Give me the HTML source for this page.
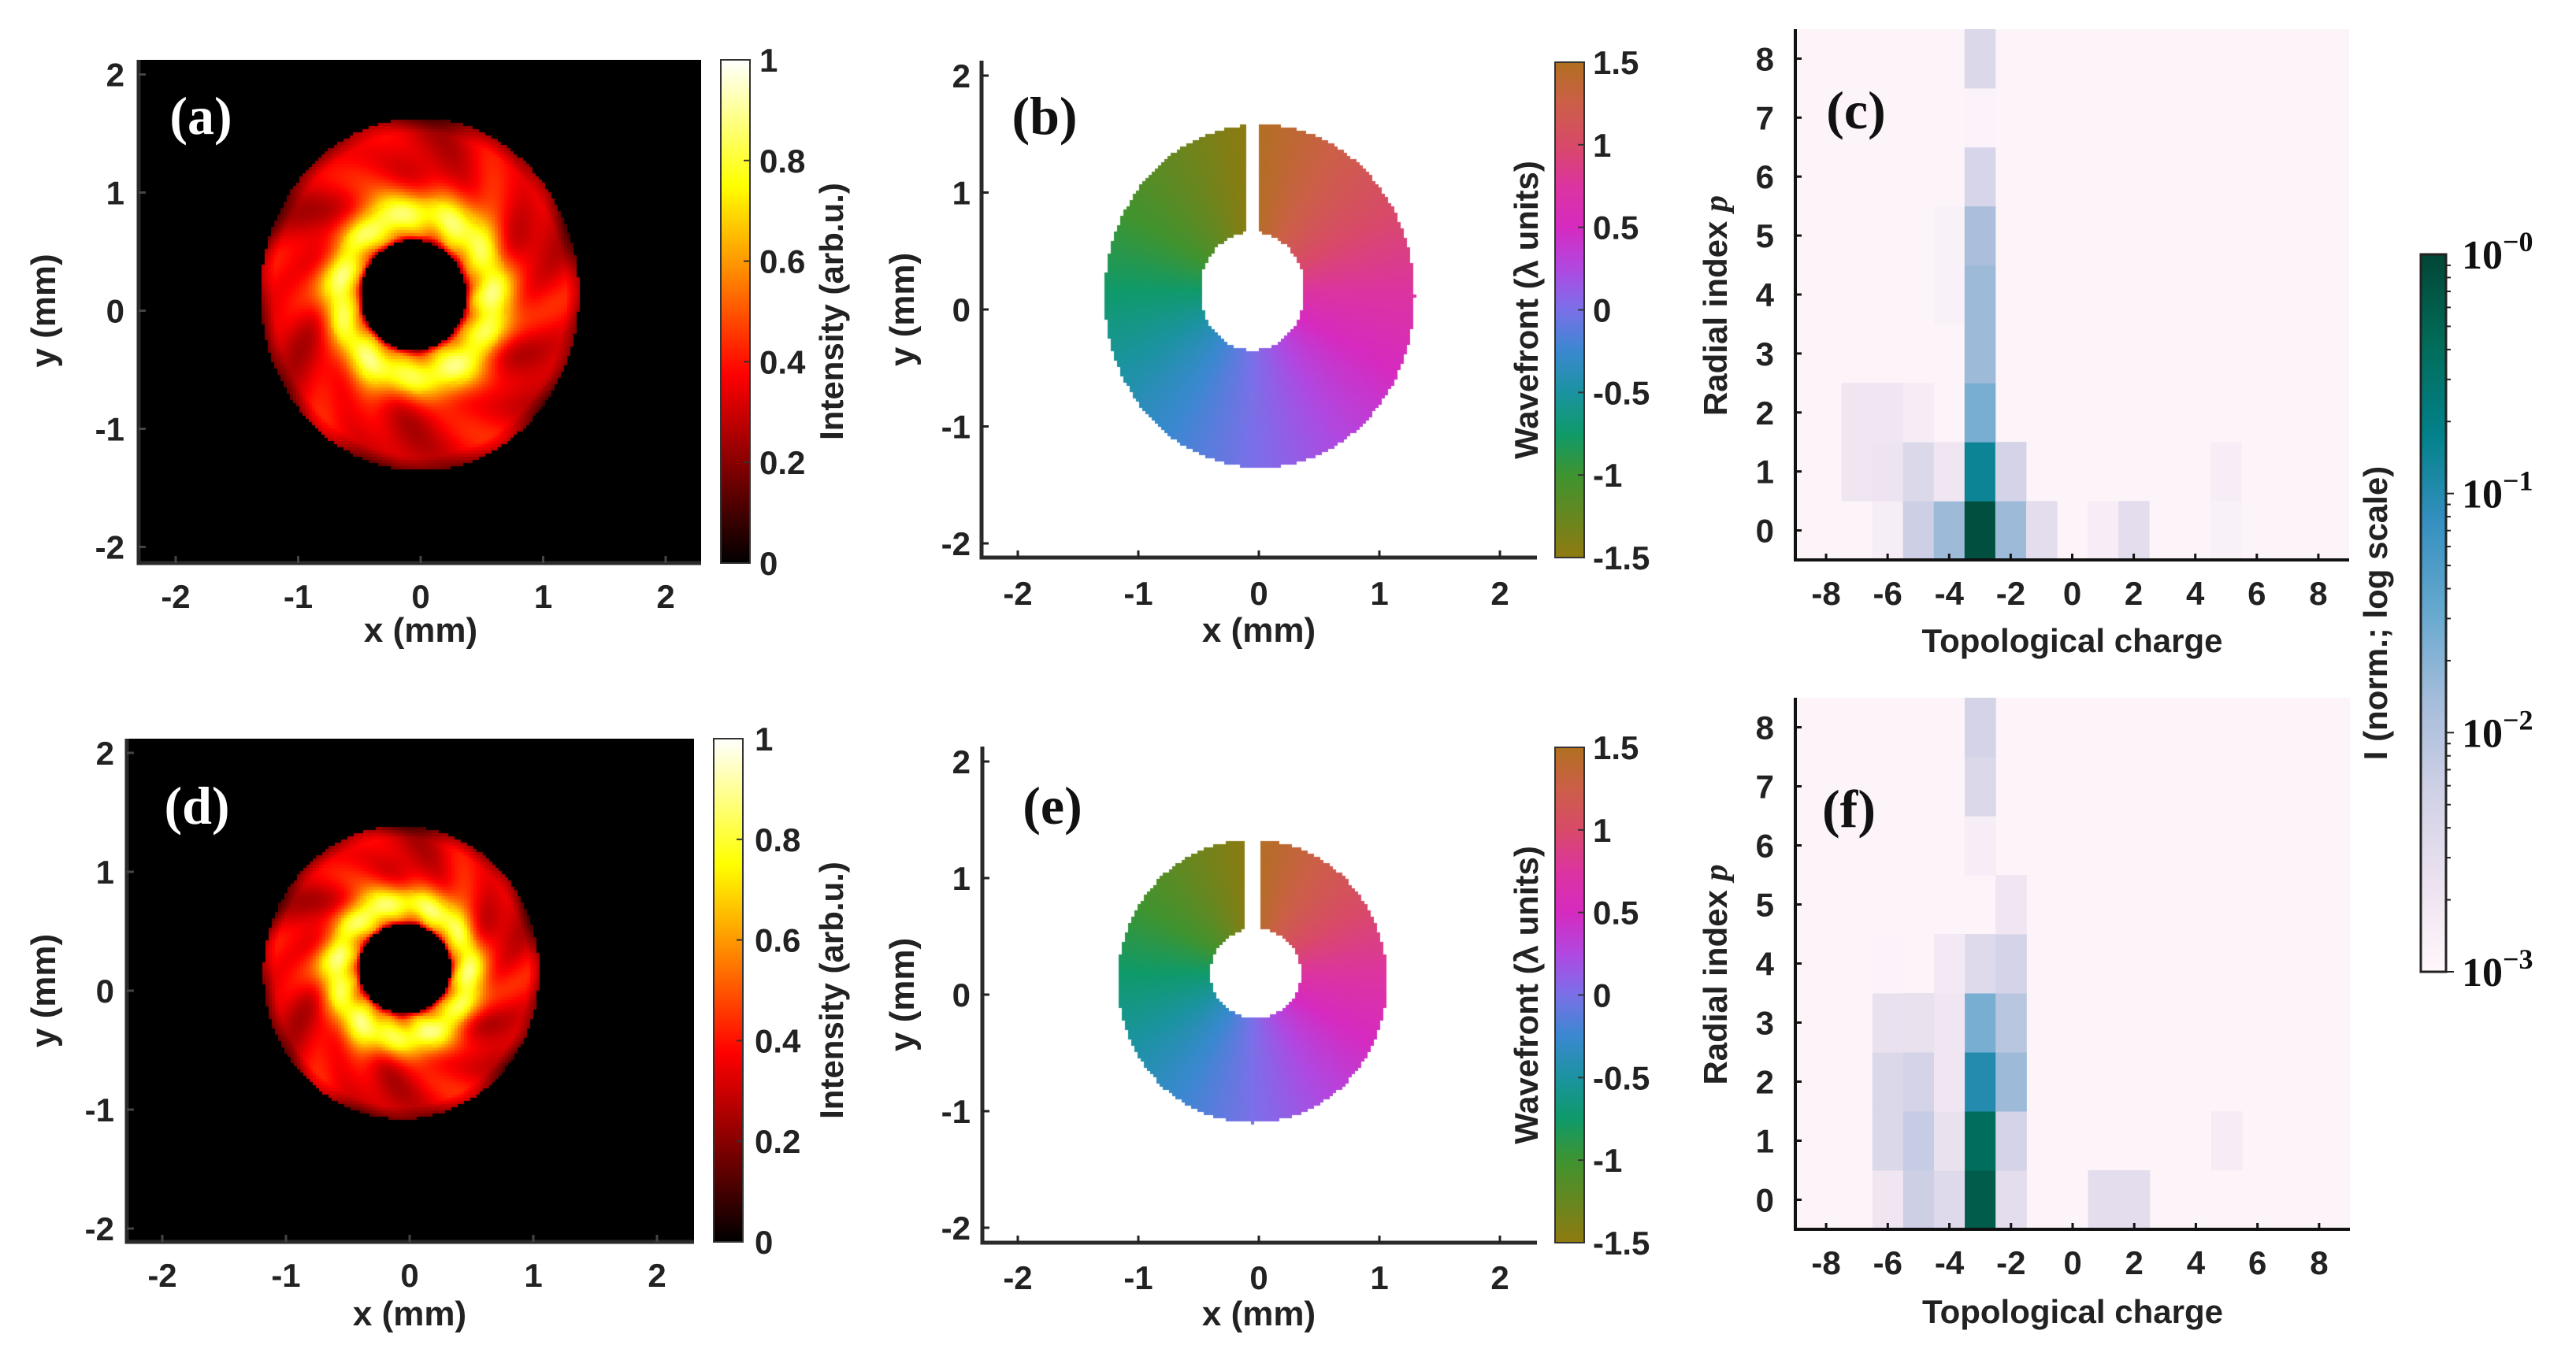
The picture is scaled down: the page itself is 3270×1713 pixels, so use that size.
<!DOCTYPE html>
<html><head><meta charset="utf-8"><style>
html,body{margin:0;padding:0;background:#fff;}
#wrap{position:relative;width:3270px;height:1713px;overflow:hidden;background:#fff;}
canvas{position:absolute;}
svg{position:absolute;left:0;top:0;}
text{font-family:"Liberation Sans",sans-serif;font-weight:bold;fill:#222;}
.ser{font-family:"Liberation Serif",serif;}
</style></head><body>
<div id="wrap">
<canvas id="cvA"></canvas>
<canvas id="cvD"></canvas>
<canvas id="cvB"></canvas>
<canvas id="cvE"></canvas>
<svg id="svg" width="3270" height="1713" viewBox="0 0 3270 1713" xmlns="http://www.w3.org/2000/svg">
<defs>
<linearGradient id="hotG" x1="0" y1="1" x2="0" y2="0">
<stop offset="0" stop-color="#000"/><stop offset="0.375" stop-color="#f00"/><stop offset="0.75" stop-color="#ff0"/><stop offset="1" stop-color="#fff"/>
</linearGradient>
<linearGradient id="phG" x1="0" y1="1" x2="0" y2="0">
<stop offset="0" stop-color="#8f7a10"/><stop offset="0.1667" stop-color="#3e9430"/><stop offset="0.25" stop-color="#0f9a6a"/><stop offset="0.333" stop-color="#1b93a0"/><stop offset="0.4167" stop-color="#3a88d0"/><stop offset="0.5" stop-color="#7a70e8"/><stop offset="0.583" stop-color="#b048e0"/><stop offset="0.667" stop-color="#d62ac0"/><stop offset="0.75" stop-color="#dc34a0"/><stop offset="0.833" stop-color="#d84a68"/><stop offset="0.9167" stop-color="#cc5f48"/><stop offset="1" stop-color="#b07020"/>
</linearGradient>
<linearGradient id="pbG" x1="0" y1="1" x2="0" y2="0">
<stop offset="0" stop-color="#fff7fb"/><stop offset="0.125" stop-color="#ece2f0"/><stop offset="0.25" stop-color="#d0d1e6"/><stop offset="0.375" stop-color="#a6bddb"/><stop offset="0.5" stop-color="#67a9cf"/><stop offset="0.625" stop-color="#3690c0"/><stop offset="0.75" stop-color="#02818a"/><stop offset="0.875" stop-color="#016c59"/><stop offset="1" stop-color="#014636"/>
</linearGradient>
</defs>
<g id="layer"></g>
</svg>
</div>
<script>
// ---- Heatmap data (c): rows p=0..8, cols topological charge ----
const charges = [-9,-8,-7,-6,-5,-4,-3,-2,-1,0,1,2,3,4,5,6,7,8,9];
const radialIdx = [0,1,2,3,4,5,6,7,8];
const xTicksTC = [-8,-6,-4,-2,0,2,4,6,8];
const yTicksP = [0,1,2,3,4,5,6,7,8];
// sparse entries [charge, p, value]
const cellsC = [
 [-6,0,0.0015],[-5,0,0.006],[-4,0,0.015],[-3,0,0.8],[-2,0,0.015],[-1,0,0.003],[1,0,0.0015],[2,0,0.003],[5,0,0.0013],
 [-7,1,0.002],[-6,1,0.0022],[-5,1,0.004],[-4,1,0.002],[-3,1,0.15],[-2,1,0.005],[5,1,0.0015],
 [-7,2,0.002],[-6,2,0.002],[-5,2,0.0016],[-3,2,0.025],
 [-3,3,0.015],
 [-4,4,0.0013],[-3,4,0.015],
 [-4,5,0.0013],[-3,5,0.012],
 [-3,6,0.0045],
 [-3,7,0.0012],
 [-3,8,0.004]
];
const cellsF = [
 [-6,0,0.002],[-5,0,0.006],[-4,0,0.0035],[-3,0,0.6],[-2,0,0.003],[1,0,0.003],[2,0,0.003],
 [-6,1,0.004],[-5,1,0.007],[-4,1,0.0025],[-3,1,0.4],[-2,1,0.005],[5,1,0.0016],
 [-6,2,0.004],[-5,2,0.005],[-4,2,0.002],[-3,2,0.1],[-2,2,0.015],
 [-6,3,0.0025],[-5,3,0.0025],[-4,3,0.002],[-3,3,0.025],[-2,3,0.009],
 [-6,4,0.0012],[-4,4,0.0018],[-3,4,0.0035],[-2,4,0.005],
 [-2,5,0.002],
 [-3,6,0.0015],
 [-3,7,0.004],
 [-3,8,0.005]
];
const mmTicks = [-2,-1,0,1,2];
const hotTicks = [0,0.2,0.4,0.6,0.8,1];
const phTicks = [-1.5,-1,-0.5,0,0.5,1,1.5];
const logTicks = [0,-1,-2,-3];

const NS='http://www.w3.org/2000/svg';
const layer=document.getElementById('layer');
function el(tag,attrs,parent){const e=document.createElementNS(NS,tag);for(const k in attrs)e.setAttribute(k,attrs[k]);(parent||layer).appendChild(e);return e;}
function txt(s,attrs,name){const e=el('text',attrs);e.textContent=s;


return e;}

const pbStops=[[255,247,251],[236,226,240],[208,209,230],[166,189,219],[103,169,207],[54,144,192],[2,129,138],[1,108,89],[1,70,54]];
function pb(t){t=Math.max(0,Math.min(1,t));const f=t*8,i=Math.min(7,Math.floor(f)),r=f-i;const a=pbStops[i],b=pbStops[i+1];return 'rgb('+a.map((v,k)=>Math.round(v+(b[k]-v)*r)).join(',')+')';}
const phStops=[[-1.5,[143,122,16]],[-1,[62,148,48]],[-0.75,[15,154,106]],[-0.5,[27,147,160]],[-0.25,[58,136,208]],[0,[122,112,232]],[0.25,[176,72,224]],[0.5,[214,42,192]],[0.75,[220,52,160]],[1,[216,74,104]],[1.25,[204,95,72]],[1.5,[176,112,32]]];
function ph(v){for(let i=0;i<phStops.length-1;i++){const a=phStops[i],b=phStops[i+1];if(v<=b[0]){const r=(v-a[0])/(b[0]-a[0]);return a[1].map((c,k)=>c+(b[1][k]-c)*r);}}return phStops[phStops.length-1][1];}
function hot(I){I=Math.max(0,Math.min(1,I));return [255*Math.min(1,I/0.375),255*Math.max(0,Math.min(1,(I-0.375)/0.375)),255*Math.max(0,(I-0.75)/0.25)];}

function intensity(id,x0,y0,x1,y1,o,inn){
 const c=document.getElementById(id);c.width=x1-x0;c.height=y1-y0;c.style.left=x0+'px';c.style.top=y0+'px';
 const ctx=c.getContext('2d');const im=ctx.createImageData(c.width,c.height);const d=im.data;
 for(let y=0;y<c.height;y+=4)for(let x=0;x<c.width;x+=4){
  const X=x0+x+2,Y=y0+y+2;
  const ro=Math.hypot((X-o[0])/o[2],(Y-o[1])/o[3]);const ri=Math.hypot((X-inn[0])/inn[2],(Y-inn[1])/inn[3]);
  let I=0;
  if(ro<=1&&ri>1){const u=(ri-1)/Math.max(0.001,(ri/ro-1));
   I=0.34+0.48*Math.exp(-Math.pow((u-0.22)/0.2,2));
   if(u<0.05)I*=0.55+u*9;
   const ang=Math.atan2(Y-o[1],X-o[0]);
   I+=0.06*Math.sin(ang*6+1)*(u>0.35?1:0.5)+0.04*Math.sin(ang*11+u*9);
   if(u>0.88)I-=(u-0.88)*1.2;}
  const col=hot(I);
  for(let dy=0;dy<4;dy++)for(let dx=0;dx<4;dx++){if(y+dy>=c.height||x+dx>=c.width)continue;const p=((y+dy)*c.width+x+dx)*4;d[p]=col[0];d[p+1]=col[1];d[p+2]=col[2];d[p+3]=255;}
 }
 ctx.putImageData(im,0,0);
}
intensity('cvA',176,76,890,715,[533,374,202,224],[525,375,67,70]);
intensity('cvD',161,938,881,1577,[509.5,1235,175,186],[514,1230,58,57]);

function wave(id,x0,y0,x1,y1,o,inn,slit){
 const c=document.getElementById(id);c.width=x1-x0;c.height=y1-y0;c.style.left=x0+'px';c.style.top=y0+'px';
 const ctx=c.getContext('2d');const im=ctx.createImageData(c.width,c.height);const d=im.data;
 for(let y=0;y<c.height;y+=4)for(let x=0;x<c.width;x+=4){
  const X=x0+x+2,Y=y0+y+2;
  const ro=Math.hypot((X-o[0])/o[2],(Y-o[1])/o[3]);const ri=Math.hypot((X-inn[0])/inn[2],(Y-inn[1])/inn[3]);
  if(!(ro<=1&&ri>1))continue; if(X>=slit[0]&&X<=slit[1]&&Y<inn[1])continue;
  let a=Math.atan2(-(X-(slit[0]+slit[1])/2),-(Y-inn[1]));
  if(a<0)a+=2*Math.PI;
  const col=ph(-1.5+3*a/(2*Math.PI));
  for(let dy=0;dy<4;dy++)for(let dx=0;dx<4;dx++){if(y+dy>=c.height||x+dx>=c.width)continue;const p=((y+dy)*c.width+x+dx)*4;d[p]=col[0];d[p+1]=col[1];d[p+2]=col[2];d[p+3]=255;}
 }
 ctx.putImageData(im,0,0);
}
wave('cvB',1350,130,1850,640,[1599,376,197,218],[1590,369.5,66,75],[1581,1598]);
wave('cvE',1380,1040,1820,1450,[1590,1246,171,180],[1594,1236,57,57],[1581,1598]);

function imgAxes(P){
 const X=v=>P.cx+P.sx*v, Y=v=>P.cy-P.sy*v;
 const ax=el('path',{d:`M${P.l} ${P.t} V${P.b} H${P.r}`,fill:'none',stroke:'#2a2a2a','stroke-width':5});
 
 mmTicks.forEach(v=>{
  el('line',{x1:X(v),x2:X(v),y1:P.b,y2:P.b-9,stroke:P.tc,'stroke-width':3});
  el('line',{x1:P.l,x2:P.l+9,y1:Y(v),y2:Y(v),stroke:P.tc,'stroke-width':3});
  txt(String(v),{x:X(v),y:P.xb,'text-anchor':'middle','font-size':42},P.n+'-x-tick');
  txt(String(v),{x:P.yr,y:Y(v)+15,'text-anchor':'end','font-size':42},P.n+'-y-tick');
 });
 txt('x (mm)',{x:P.cx,y:P.xt,'text-anchor':'middle','font-size':44},P.n+'-x-axis-title');
 txt('y (mm)',{x:P.yt,y:P.cy,'text-anchor':'middle','font-size':44,transform:`rotate(-90 ${P.yt} ${P.cy})`},P.n+'-y-axis-title');
 txt(P.lab,{x:P.lx,y:P.ly,'text-anchor':'middle','font-size':68,class:'ser',style:'fill:'+P.lc},P.n+'-panel-label');
}
imgAxes({n:'a',l:176,r:890,t:76,b:715,cx:534,sx:155.5,cy:394.5,sy:150,tc:'#444',xb:772,yr:158,xt:815,yt:70,lab:'(a)',lx:255,ly:170,lc:'#fff'});
imgAxes({n:'d',l:161,r:881,t:938,b:1577,cx:520,sx:157,cy:1258,sy:151,tc:'#444',xb:1634,yr:145,xt:1683,yt:70,lab:'(d)',lx:250,ly:1046,lc:'#fff'});
imgAxes({n:'b',l:1246,r:1951,t:77,b:708,cx:1598,sx:153,cy:393,sy:148.5,tc:'#222',xb:768,yr:1232,xt:815,yt:1160,lab:'(b)',lx:1326,ly:170,lc:'#111'});
imgAxes({n:'e',l:1247,r:1951,t:948,b:1578,cx:1598,sx:153,cy:1263,sy:148,tc:'#222',xb:1637,yr:1232,xt:1683,yt:1160,lab:'(e)',lx:1336,ly:1046,lc:'#111'});

function cbar(n,x0,x1,t,b,grad,ticks,lo,hi,lx,title,tx){
 const r=el('rect',{x:x0,y:t,width:x1-x0,height:b-t,fill:'url(#'+grad+')',stroke:'#333','stroke-width':2});
 
 ticks.forEach(v=>{const y=b-(v-lo)/(hi-lo)*(b-t);el('line',{x1:x1-8,x2:x1,y1:y,y2:y,stroke:'#333','stroke-width':2});
  txt(String(v),{x:lx,y:y+15,'font-size':42},n+'-colorbar-tick');});
 const cy=(t+b)/2;
 txt(title,{x:tx,y:cy,'text-anchor':'middle','font-size':42,transform:`rotate(-90 ${tx} ${cy})`},n+'-colorbar-title');
}
cbar('a',915,952,76,715,'hotG',hotTicks,0,1,964,'Intensity (arb.u.)',1070);
cbar('d',906,943,938,1577,'hotG',hotTicks,0,1,958,'Intensity (arb.u.)',1070);
cbar('b',1974,2011,79,708,'phG',phTicks,-1.5,1.5,2022,'Wavefront (\u03bb units)',1952);
cbar('e',1974,2011,949,1578,'phG',phTicks,-1.5,1.5,2022,'Wavefront (\u03bb units)',1952);

function heat(n,P,cells,lab,lx,ly){
 const X=v=>P.l+(v-(-9))/18*(P.r-P.l), Y=v=>P.b-(v-(-0.5))/9*(P.b-P.t);
 const bg=el('rect',{x:P.l,y:P.t,width:P.r-P.l,height:P.b-P.t,fill:pb(0.02)});
 
 const cw=X(1)-X(0), ch=Y(0)-Y(1);
 cells.forEach(c=>{const t=(Math.log10(c[2])+3)/3;
  const r=el('rect',{x:X(c[0])-cw/2,y:Y(c[1])-ch/2,width:cw+0.5,height:ch+0.5,fill:pb(t)});
  
  
 });
 const ax=el('path',{d:`M${P.l} ${P.t} V${P.b} H${P.r}`,fill:'none',stroke:'#111','stroke-width':4});
 
 xTicksTC.forEach(v=>{el('line',{x1:X(v),x2:X(v),y1:P.b,y2:P.b-8,stroke:'#111','stroke-width':3});
  txt(String(v),{x:X(v),y:P.xb,'text-anchor':'middle','font-size':42},n+'-x-tick');});
 yTicksP.forEach(v=>{el('line',{x1:P.l,x2:P.l+8,y1:Y(v),y2:Y(v),stroke:'#111','stroke-width':3});
  txt(String(v),{x:2252,y:Y(v)+15,'text-anchor':'end','font-size':42},n+'-y-tick');});
 txt('Topological charge',{x:(P.l+P.r)/2,y:P.xt,'text-anchor':'middle','font-size':42},n+'-x-axis-title');
 const cy=(P.t+P.b)/2+14;
 const yt=el('text',{x:2192,y:cy,'text-anchor':'middle','font-size':42,transform:`rotate(-90 2192 ${cy})`});
 
 yt.innerHTML='Radial index <tspan class="ser" font-style="italic">p</tspan>';
 txt(lab,{x:lx,y:ly,'text-anchor':'middle','font-size':68,class:'ser',style:'fill:#111'},n+'-panel-label');
}
heat('c',{l:2279,r:2982,t:37,b:711,xb:768,xt:828},cellsC,'(c)',2356,163);
heat('f',{l:2279,r:2983,t:886,b:1561,xb:1618,xt:1680},cellsF,'(f)',2347,1050);

(function(){
 const x0=3073,x1=3105,t=323,b=1234;
 const r=el('rect',{x:x0,y:t,width:x1-x0,height:b-t,fill:'url(#pbG)',stroke:'#222','stroke-width':3});
 
 const Y=e=>t+(-e)/3*(b-t);
 for(let d=0;d<3;d++)for(let m=1;m<=9;m++){const e=-(d+1)+Math.log10(m);const y=Y(e);el('line',{x1:x1,x2:x1+(m==1?10:6),y1:y,y2:y,stroke:'#222','stroke-width':2});}
 logTicks.forEach(e=>{const g=el('text',{x:3125,y:Y(e)+18,'font-size':52,class:'ser',style:'fill:#111'});
  
  g.innerHTML='10<tspan dy="-22" font-size="36">\u2212'+Math.abs(e)+'</tspan>';});
 const cy=(t+b)/2;
 txt('I (norm.; log scale)',{x:3030,y:cy,'text-anchor':'middle','font-size':42,transform:`rotate(-90 3030 ${cy})`},'log-colorbar-title');
})();
</script>
</body></html>
